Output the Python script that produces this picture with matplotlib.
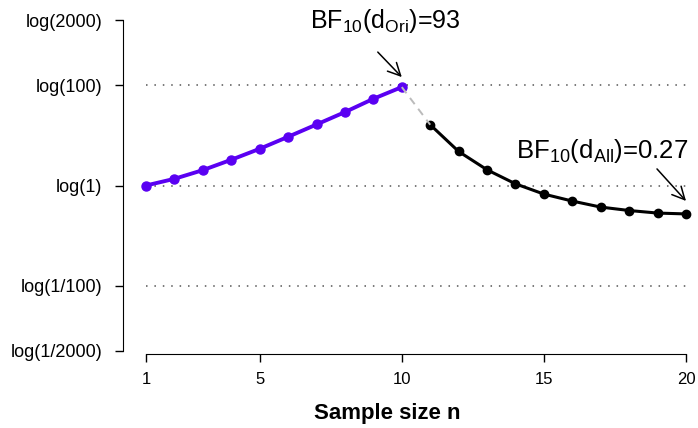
import numpy as np
import matplotlib
matplotlib.use("Agg")
import matplotlib.pyplot as plt
from matplotlib.transforms import offset_copy

plt.rcParams['font.family'] = ['Liberation Sans', 'DejaVu Sans']
plt.rcParams['mathtext.fontset'] = 'custom'
plt.rcParams['mathtext.rm'] = 'Liberation Sans'
plt.rcParams['mathtext.it'] = 'Liberation Sans:italic'
plt.rcParams['mathtext.bf'] = 'Liberation Sans:bold'

# Bayes factors for the original study (n = 1..10) and the follow-up (n = 11..20)
n_ori = np.arange(1, 11)
bf_ori = [1.0, 1.36, 2.03, 3.27, 5.42, 9.42, 16.6, 29.4, 54.2, 93.0]
n_all = np.arange(11, 21)
bf_all = [16.4, 4.79, 2.06, 1.08, 0.673, 0.488, 0.370, 0.316, 0.281, 0.27]

ytick_vals = [2000, 100, 1, 1 / 100, 1 / 2000]
ytick_labels = ['log(2000)', 'log(100)', 'log(1)', 'log(1/100)', 'log(1/2000)']
ref_lines = [100, 1, 1 / 100]
xticks = [1, 5, 10, 15, 20]

purple = '#5a00f2'

fig = plt.figure(figsize=(6.98, 4.28), dpi=100)
ax = fig.add_axes([123 / 698, 1 - 354 / 428, (696 - 123) / 698, (354 - 10) / 428])

# dotted reference lines
for v in ref_lines:
    ax.plot([1, 20], [np.log(v)] * 2, color='#555555', lw=1.1,
            linestyle=(0, (1, 4.5)), zorder=1)

ax.plot(n_ori, np.log(bf_ori), color=purple, lw=2.8, marker='o', ms=6.5, zorder=3)
ax.plot(n_all, np.log(bf_all), color='black', lw=2.2, marker='o', ms=6, zorder=3)
ax.plot([n_ori[-1], n_all[0]], [np.log(bf_ori[-1]), np.log(bf_all[0])],
        color='#bbbbbb', lw=1.4, linestyle=(0, (4, 3)), zorder=4)

# arrows pointing down at the two final Bayes factors
arrow = dict(arrowstyle='->,head_length=0.9,head_width=0.45', color='black',
             lw=1.1, shrinkA=0, shrinkB=0)
ax.annotate('', xy=(n_ori[-1], np.log(bf_ori[-1])),
            xycoords=offset_copy(ax.transData, fig=fig, x=0, y=10, units='dots'),
            xytext=(-24, 25), textcoords='offset pixels', arrowprops=arrow)
ax.annotate('', xy=(n_all[-1], np.log(bf_all[-1])),
            xycoords=offset_copy(ax.transData, fig=fig, x=0, y=13, units='dots'),
            xytext=(-29, 32), textcoords='offset pixels', arrowprops=arrow)

fig.text(385 / 698, 1 - 28 / 428,
         r'BF$_{10}$(d$_{\mathrm{Ori}}$)=%g' % bf_ori[-1],
         ha='center', va='baseline', fontsize=18)
fig.text(602 / 698, 1 - 158 / 428,
         r'BF$_{10}$(d$_{\mathrm{All}}$)=%g' % bf_all[-1],
         ha='center', va='baseline', fontsize=18.5)

ax.set_xlim(1 - 23 / 28.42, 20 + 10 / 28.42)
ax.set_ylim(-(354 - 185.5) / 21.715, (185.5 - 10) / 21.715)

ax.set_xticks(xticks)
ax.set_yticks(np.log(ytick_vals))
ax.set_yticklabels(ytick_labels)
ax.tick_params(axis='both', direction='out', length=6, width=1)
ax.tick_params(axis='x', pad=7, labelsize=12)
ax.tick_params(axis='y', pad=9, labelsize=13)

for s in ['top', 'right']:
    ax.spines[s].set_visible(False)
ax.spines['left'].set_bounds(np.log(1 / 2000), np.log(2000))
ax.spines['bottom'].set_bounds(1, 20)

fig.text(387 / 698, 1 - 413 / 428, 'Sample size n', ha='center', va='center',
         fontsize=16, fontweight='bold')

fig.savefig('out.png', dpi=100)
